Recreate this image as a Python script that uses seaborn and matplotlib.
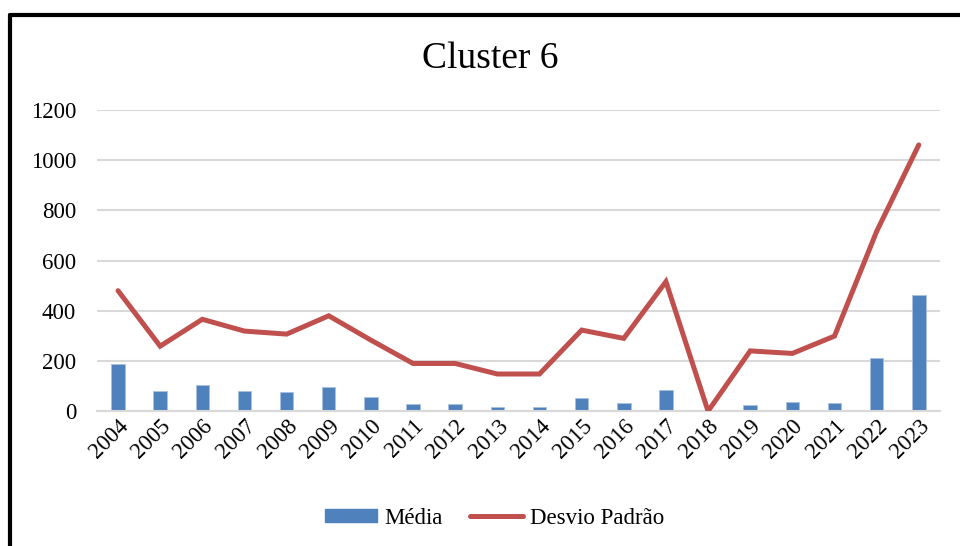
import numpy as np
import pandas as pd
import matplotlib
matplotlib.use("Agg")
import matplotlib.pyplot as plt
from matplotlib.lines import Line2D
import seaborn as sns

# values
anos = [str(a) for a in range(2004, 2024)]
media = [186, 81, 106, 81, 76, 97, 55, 28, 28, 16, 16, 51, 31, 84, 0, 24, 36, 32, 213, 463]
desvio = [480, 259, 366, 319, 307, 380, 283, 190, 190, 148, 148, 323, 290, 516, 0, 240, 230, 299, 716, 1061]
yticks = [0, 200, 400, 600, 800, 1000, 1200]

cor_barra = "#4F81BD"
cor_linha = "#C0504D"

df = pd.DataFrame({"Ano": anos, "Média": media, "Desvio Padrão": desvio})

sns.set_style("white")
plt.rcParams["font.family"] = ["Liberation Serif", "DejaVu Serif"]
plt.rcParams["text.color"] = "black"
plt.rcParams["xtick.color"] = "black"
plt.rcParams["ytick.color"] = "black"

fig = plt.figure(figsize=(9.6, 5.46), dpi=100)
ax = fig.add_axes([0.101, 0.247, 0.878, 0.5515])

sns.barplot(data=df, x="Ano", y="Média", color=cor_barra, width=0.32,
            saturation=1, edgecolor="#A9C1E0", linewidth=0.6, ax=ax, zorder=2)
sns.lineplot(data=df, x="Ano", y="Desvio Padrão", color=cor_linha, linewidth=3.6,
             ax=ax, zorder=3, solid_capstyle="round", solid_joinstyle="miter")

ax.set_ylim(0, 1200)
ax.set_xlim(-0.5, len(anos) - 0.5)
ax.set_yticks(yticks)
ax.set_yticklabels([str(v) for v in yticks], fontsize=16.5)
ax.tick_params(axis="y", length=0, pad=15)
ax.tick_params(axis="x", length=0, pad=3)
plt.setp(ax.get_xticklabels(), rotation=45, ha="right", va="top",
         rotation_mode="anchor", fontsize=16.5)
ax.set_xlabel("")
ax.set_ylabel("")
ax.grid(axis="y", color="#D9D9D9", linewidth=1.5, zorder=0)
ax.set_axisbelow(True)
for s in ["left", "right", "top"]:
    ax.spines[s].set_visible(False)
ax.spines["bottom"].set_color("#D9D9D9")
ax.spines["bottom"].set_linewidth(1.5)

fig.text(0.511, 0.893, "Cluster 6", ha="center", va="center", fontsize=27)

# legend
handles = [
    plt.Rectangle((0, 0), 1, 1, color=cor_barra),
    Line2D([0], [0], color=cor_linha, linewidth=3.6, solid_capstyle="round"),
]
fig.legend(handles, ["Média", "Desvio Padrão"], loc="center",
           bbox_to_anchor=(0.515, 0.051), ncol=2, frameon=False, fontsize=16.5,
           handlelength=2.3, handleheight=0.55, handletextpad=0.3, columnspacing=1.2)

# chart frame (left and top edges visible)
fig.add_artist(Line2D([0.0104, 0.0104], [0.0, 0.973], color="black", linewidth=3,
                      transform=fig.transFigure))
fig.add_artist(Line2D([0.0104, 1.0], [0.973, 0.973], color="black", linewidth=3,
                      transform=fig.transFigure))

fig.savefig("out.png", dpi=100)
